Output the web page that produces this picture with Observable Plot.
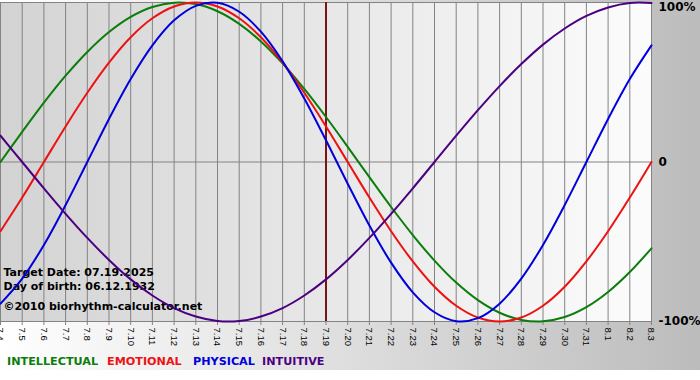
<!DOCTYPE html>
<html><head><meta charset="utf-8">
<script src="https://cdn.jsdelivr.net/npm/d3@7"></script>
<script src="https://cdn.jsdelivr.net/npm/@observablehq/plot@0.6"></script>
<style>
html,body{margin:0;padding:0;background:#fff;}
#wrap{width:700px;height:370px;background:linear-gradient(to right,#ffffff,#bcbcbc);overflow:hidden;}
#legend{position:relative;height:18px;font:bold 11.2px "DejaVu Sans",Verdana,sans-serif;white-space:nowrap;}
#legend span{position:absolute;top:0;line-height:20px;}
</style></head><body>
<div id="wrap"><div id="chart"></div><div id="legend"></div></div>
<script>
const days = ["7.4","7.5","7.6","7.7","7.8","7.9","7.10","7.11","7.12","7.13","7.14","7.15","7.16","7.17","7.18","7.19","7.20","7.21","7.22","7.23","7.24","7.25","7.26","7.27","7.28","7.29","7.30","7.31","8.1","8.2","8.3"];
const targetDay = "7.19";
const intellectual = [0,18.9,37.2,54.1,69.0,81.5,91.0,97.2,99.9,99.0,94.5,86.6,75.6,61.8,45.8,28.2,9.5,-9.5,-28.2,-45.8,-61.8,-75.6,-86.6,-94.5,-99.0,-99.9,-97.2,-91.0,-81.5,-69.0,-54.1];
const emotional = [-43.4,-22.3,0,22.3,43.4,62.3,78.2,90.1,97.5,100,97.5,90.1,78.2,62.3,43.4,22.3,0,-22.3,-43.4,-62.3,-78.2,-90.1,-97.5,-100,-97.5,-90.1,-78.2,-62.3,-43.4,-22.3,0];
const physical = [-88.8,-73.1,-52.0,-27.0,0,27.0,52.0,73.1,88.8,97.9,99.8,94.2,81.7,63.1,39.8,13.6,-13.6,-39.8,-63.1,-81.7,-94.2,-99.8,-97.9,-88.8,-73.1,-52.0,-27.0,0,27.0,52.0,73.1];
const intuitive = [16.5,0,-16.5,-32.5,-47.6,-61.4,-73.6,-83.7,-91.6,-96.9,-99.7,-99.7,-96.9,-91.6,-83.7,-73.6,-61.4,-47.6,-32.5,-16.5,0,16.5,32.5,47.6,61.4,73.6,83.7,91.6,96.9,99.7,99.7];
const seriesNames = ["INTELLECTUAL","EMOTIONAL","PHYSICAL","INTUITIVE"];
const seriesColors = ["#0b7d0b","#ee1111","#0000dd","#4b0082"];
const yTicks = [100, 0, -100];
const infoLines = ["Target Date: 07.19.2025","Day of birth: 06.12.1932","©2010 biorhythm-calculator.net"];

const seriesValues = [intellectual, emotional, physical, intuitive];
const dayIndex = days.map((d, i) => i);
const rows = seriesValues.map(vals => days.map((d, i) => ({i, day: d, value: vals[i]})));

const grid = "#838383";
const plot = Plot.plot({
  width: 700, height: 352,
  marginLeft: 0, marginRight: 49, marginTop: 2, marginBottom: 31,
  style: {background: "none", fontFamily: "DejaVu Sans, sans-serif", color: "#000", overflow: "visible"},
  x: {type: "linear", domain: [dayIndex[0], dayIndex[dayIndex.length - 1]], label: null},
  y: {domain: [-100, 100], label: null},
  marks: [
    Plot.frame({fill: "url(#plotbg)", stroke: null}),
    Plot.ruleX(dayIndex, {stroke: grid}),
    Plot.ruleY(yTicks, {stroke: grid}),
    Plot.axisX(dayIndex, {tickRotate: 90, tickSize: 4, tickPadding: 2, stroke: grid, fill: "#000", fontSize: 9.5, fontFamily: "Liberation Sans, Arial, sans-serif", tickFormat: i => days[i]}),
    Plot.axisY([yTicks[1], yTicks[2]], {anchor: "right", tickSize: 0, tickPadding: 7, fontSize: 12, fontWeight: "bold", fill: "#000", tickFormat: d => d === 0 ? "0" : d + "%"}),
    Plot.axisY([yTicks[0]], {anchor: "right", tickSize: 0, tickPadding: 7, dy: 5, fontSize: 12, fontWeight: "bold", fill: "#000", tickFormat: d => d + "%"}),
    Plot.text([infoLines[0]], {frameAnchor: "bottom-left", dx: 3, dy: -46, text: d => d, textAnchor: "start", fontWeight: "bold", fontSize: 11, fill: "#000"}),
    Plot.text([infoLines[1]], {frameAnchor: "bottom-left", dx: 3, dy: -32, text: d => d, textAnchor: "start", fontWeight: "bold", fontSize: 11, fill: "#000"}),
    Plot.text([infoLines[2]], {frameAnchor: "bottom-left", dx: 3, dy: -12, text: d => d, textAnchor: "start", fontWeight: "bold", fontSize: 11, fill: "#000"}),
    Plot.ruleX([days.indexOf(targetDay)], {stroke: "#7a1414", strokeWidth: 2}),
    ...rows.map((r, k) => Plot.line(r, {x: "i", y: "value", stroke: seriesColors[k], strokeWidth: 2, curve: "catmull-rom"}))
  ]
});
const defs = document.createElementNS("http://www.w3.org/2000/svg", "defs");
defs.innerHTML = '<linearGradient id="plotbg" x1="0" x2="1" y1="0" y2="0"><stop offset="0" stop-color="#d3d3d3"/><stop offset="1" stop-color="#fcfcfc"/></linearGradient>';
plot.prepend(defs);
document.getElementById("chart").appendChild(plot);
const legend = document.getElementById("legend");
const legendLeft = [7, 107, 193, 262];
seriesNames.forEach((n, k) => {
  const s = document.createElement("span");
  s.textContent = n;
  s.style.color = seriesColors[k];
  s.style.left = legendLeft[k] + "px";
  legend.appendChild(s);
});
</script>
</body></html>
